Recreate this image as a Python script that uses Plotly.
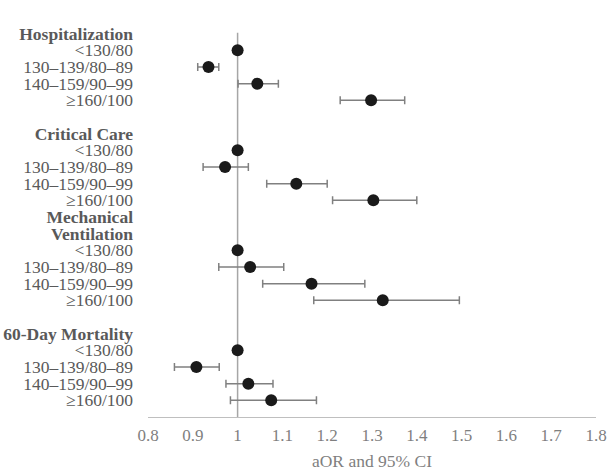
import plotly.graph_objects as go

groups = ["Hospitalization", "Critical Care", "Mechanical<br>Ventilation", "60-Day Mortality"]
categories = ["<130/80", "130–139/80–89", "140–159/90–99", "≥160/100"]

hosp_aor = [1.0, 0.935, 1.044, 1.298]
hosp_lo = [1.0, 0.911, 1.001, 1.229]
hosp_hi = [1.0, 0.958, 1.091, 1.373]

cc_aor = [1.0, 0.972, 1.131, 1.303]
cc_lo = [1.0, 0.923, 1.065, 1.212]
cc_hi = [1.0, 1.024, 1.200, 1.400]

mv_aor = [1.0, 1.028, 1.165, 1.324]
mv_lo = [1.0, 0.958, 1.056, 1.170]
mv_hi = [1.0, 1.103, 1.284, 1.495]

mort_aor = [1.0, 0.908, 1.024, 1.075]
mort_lo = [1.0, 0.859, 0.974, 0.984]
mort_hi = [1.0, 0.959, 1.079, 1.176]

x_ticks = [0.8, 0.9, 1.0, 1.1, 1.2, 1.3, 1.4, 1.5, 1.6, 1.7, 1.8]
x_ticktext = ["0.8", "0.9", "1", "1.1", "1.2", "1.3", "1.4", "1.5", "1.6", "1.7", "1.8"]

series = [
    (hosp_aor, hosp_lo, hosp_hi),
    (cc_aor, cc_lo, cc_hi),
    (mv_aor, mv_lo, mv_hi),
    (mort_aor, mort_lo, mort_hi),
]

# Build row layout: header rows, category rows, spacer rows
header_rows = [["<b>Hospitalization</b>"], ["<b>Critical Care</b>"],
               ["<b>Mechanical</b>", "<b>Ventilation</b>"], ["<b>60-Day Mortality</b>"]]
spacer_after = [True, False, True, False]

tickvals, ticktext = [], []
xs, ys, ep, em = [], [], [], []
row = 0
for gi, (aor, lo, hi) in enumerate(series):
    for h in header_rows[gi]:
        tickvals.append(row)
        ticktext.append(h)
        row += 1
    for ci, cat in enumerate(categories):
        tickvals.append(row)
        ticktext.append(cat)
        xs.append(aor[ci])
        ys.append(row)
        ep.append(hi[ci] - aor[ci] if ci > 0 else None)
        em.append(aor[ci] - lo[ci] if ci > 0 else None)
        row += 1
    if spacer_after[gi]:
        row += 1
n_rows = row  # axis position

fig = go.Figure()
fig.add_trace(go.Scatter(
    x=xs, y=ys, mode="markers",
    marker=dict(size=12, color="#1a1a1a"),
    error_x=dict(type="data", symmetric=False, array=ep, arrayminus=em,
                 color="#808080", thickness=1.5, width=4),
    showlegend=False, hoverinfo="x+y",
))

fig.add_shape(type="line", xref="x", yref="y", x0=1, x1=1, y0=-0.05, y1=n_rows,
              line=dict(color="#a6a6a6", width=1.5), layer="below")

fig.update_layout(
    width=608, height=472,
    margin=dict(l=148, r=12, t=17, b=55),
    plot_bgcolor="white", paper_bgcolor="white",
    font=dict(family="Liberation Serif, Times New Roman, serif", size=17.5, color="#595959"),
    xaxis=dict(range=[0.8, 1.8], tickvals=x_ticks, ticktext=x_ticktext, automargin=False,
               showgrid=False, zeroline=False, showline=True, linecolor="#bfbfbf",
               linewidth=1, ticks="", ticklabelstandoff=3, tickfont=dict(size=17, color="#7f7f7f"),
               title=dict(text="aOR and 95% CI", font=dict(size=17.5, color="#7f7f7f"), standoff=10)),
    yaxis=dict(range=[n_rows, -1], tickvals=tickvals, ticktext=ticktext, automargin=False,
               showgrid=False, zeroline=False, showline=False, ticks="",
               ticklabelstandoff=14, tickfont=dict(size=17.5, color="#595959")),
)

fig.write_html("out.html", config={"displayModeBar": False},
               post_script="document.body.style.margin='0';")
